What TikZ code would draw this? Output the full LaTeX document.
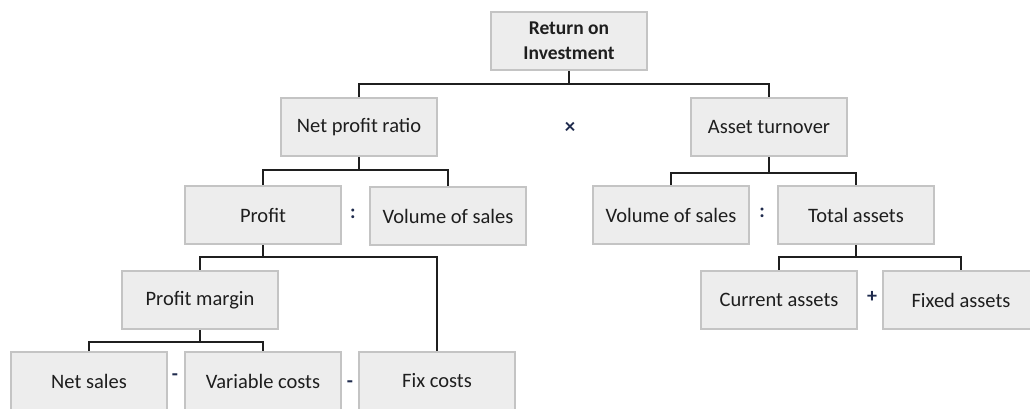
\documentclass[tikz,border=0pt]{standalone}
\usepackage{fontspec}
\setmainfont{Carlito}
\begin{document}
\definecolor{boxfill}{HTML}{EDEDED}
\definecolor{boxline}{HTML}{C4C4C4}
\definecolor{txt}{HTML}{1E1E1E}
\definecolor{opcol}{HTML}{1F2B4D}
\begin{tikzpicture}[x=1pt,y=-1pt,
  kbox/.style={draw=boxline, line width=2.5pt, fill=boxfill, minimum width=156pt,
    minimum height=58pt, inner sep=0pt, text=txt, font=\fontsize{20.5}{24}\selectfont, align=center},
  conn/.style={draw=black!88, line width=1.6pt},
  op/.style={text=opcol, font=\fontsize{20}{22}\selectfont\bfseries, inner sep=0pt}]
\useasboundingbox (0,0) rectangle (1030,408);
\clip (0,0) rectangle (1030,408);

% boxes
\node[kbox, font=\fontsize{19.5}{25}\selectfont\bfseries] (roi) at (569,41) {Return on\\Investment};
\node[kbox] (npr) at (359,127) {Net profit ratio};
\node[kbox] (at) at (769,127) {Asset turnover};
\node[kbox] (prof) at (263,215) {Profit};
\node[kbox] (vos1) at (448,216) {Volume of sales};
\node[kbox] (vos2) at (671,215) {Volume of sales};
\node[kbox] (ta) at (856,215) {Total assets};
\node[kbox] (pm) at (200,300) {Profit margin};
\node[kbox] (ca) at (779,300) {Current assets};
\node[kbox] (fa) at (961,300) {Fixed assets};
\node[kbox] (ns) at (89,381) {Net sales};
\node[kbox] (vc) at (263,381) {Variable costs};
\node[kbox] (fc) at (437,381) {Fix costs};

% operators
\node[op, font=\fontsize{21}{22}\selectfont\bfseries] (times) at (570,128) {×};
\node[op] (div1) at (353,214) {:};
\node[op] (div2) at (762,213) {:};
\node[op] (plus) at (872,297) {+};
\node[op] (min1) at (175,377) {-};
\node[op] (min2) at (350,384) {-};

% branch points
\coordinate (b1) at (569,84);
\coordinate (b2) at (359,170);
\coordinate (b3) at (769,173);
\coordinate (b4) at (263,257);
\coordinate (b5) at (200,342);
\coordinate (b6) at (856,257);

% connectors
\draw[conn] (roi.south) -- (b1);
\draw[conn] (npr.north) |- (b1) -| (at.north);
\draw[conn] (npr.south) -- (b2);
\draw[conn] (prof.north) |- (b2) -| (vos1.north);
\draw[conn] (at.south) -- (b3);
\draw[conn] (vos2.north) |- (b3) -| (ta.north);
\draw[conn] (prof.south) -- (b4);
\draw[conn] (pm.north) |- (b4) -| (fc.north);
\draw[conn] (pm.south) -- (b5);
\draw[conn] (ns.north) |- (b5) -| (vc.north);
\draw[conn] (ta.south) -- (b6);
\draw[conn] (ca.north) |- (b6) -| (fa.north);
\end{tikzpicture}
\end{document}
